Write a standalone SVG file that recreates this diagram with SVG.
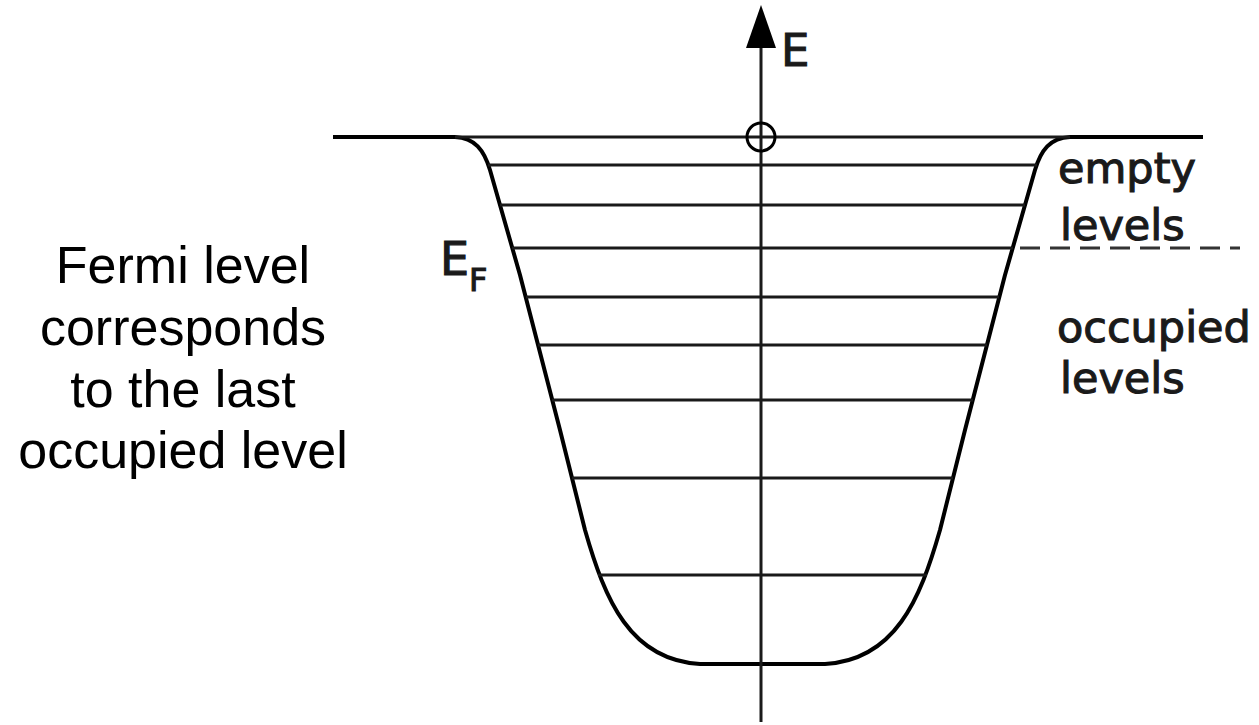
<svg xmlns="http://www.w3.org/2000/svg" width="1259" height="725" viewBox="0 0 1259 725">
<style>
.lvl{stroke:#1a1a1a;stroke-width:3;fill:none}
.wall{stroke:#000;stroke-width:4;fill:none;stroke-linejoin:round}
.lab{font-family:"DejaVu Sans",sans-serif;fill:#1a1a1a;stroke:#1a1a1a;stroke-width:1.1}
.cap{font-family:"Liberation Sans",Arial,sans-serif;font-size:52px;fill:#000;text-anchor:middle}
</style>
<rect width="1259" height="725" fill="#fff"/>
<g id="well">
<path class="wall" d="M333,137 L455,137 C475,138 484,150 490,170 L520,275 L560,430 L585,530 C605,600 630,660 700,664 L825,664 C895,660 920,600 940,530 L965,430 L1005,275 L1035,170 C1041,150 1050,138 1070,137 L1203,137"/>
</g>
<g id="levels">
<line class="lvl" x1="455" y1="137" x2="1070" y2="137"/>
<line class="lvl" x1="488" y1="165" x2="1037" y2="165"/>
<line class="lvl" x1="500" y1="205" x2="1025" y2="205"/>
<line class="lvl" x1="512" y1="248" x2="1013" y2="248"/>
<line class="lvl" x1="526" y1="297" x2="999" y2="297"/>
<line class="lvl" x1="538" y1="345" x2="987" y2="345"/>
<line class="lvl" x1="552" y1="400" x2="973" y2="400"/>
<line class="lvl" x1="572" y1="478" x2="953" y2="478"/>
<line class="lvl" x1="598" y1="575" x2="927" y2="575"/>
</g>
<g id="axis">
<line x1="761" y1="40" x2="761" y2="722" stroke="#1a1a1a" stroke-width="3"/>
<polygon points="761,5 746,48 776,48" fill="#000"/>
<text class="lab" x="781" y="66" font-size="45">E</text>
</g>
<g id="hole">
<circle cx="761" cy="137" r="14" fill="none" stroke="#000" stroke-width="3"/>
</g>
<g id="fermi-dash">
<line x1="1020" y1="248" x2="1240" y2="248" stroke="#333" stroke-width="3" stroke-dasharray="20,10"/>
</g>
<g id="labels">
<text class="lab" x="1058" y="183" font-size="43">empty</text>
<text class="lab" x="1060" y="240" font-size="43">levels</text>
<text class="lab" x="1057" y="342" font-size="43">occupied</text>
<text class="lab" x="1060" y="393" font-size="43">levels</text>
<text class="lab" x="440" y="275" font-size="46">E<tspan font-size="32" dy="16">F</tspan></text>
</g>
<g id="caption">
<text class="cap" x="183" y="283">Fermi level</text>
<text class="cap" x="183" y="345">corresponds</text>
<text class="cap" x="183" y="407">to the last</text>
<text class="cap" x="183" y="468">occupied level</text>
</g>
</svg>
